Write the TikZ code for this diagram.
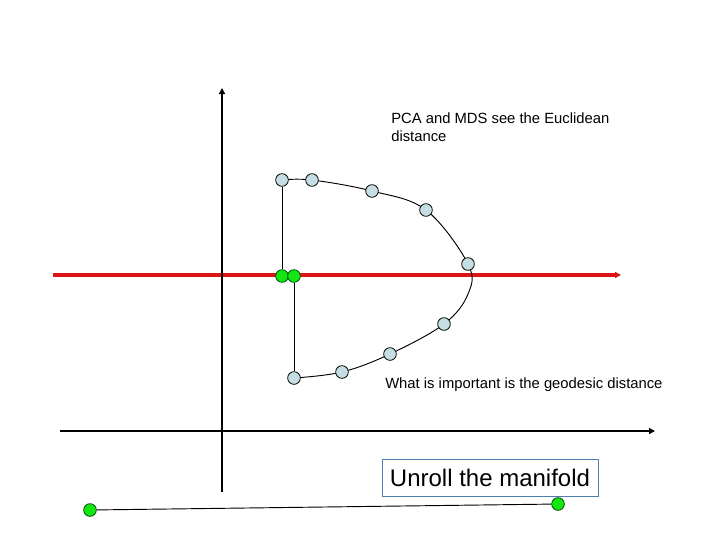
\documentclass[tikz,border=0pt]{standalone}
\usepackage{fontspec}
\setmainfont{Liberation Sans}
\usetikzlibrary{arrows.meta,backgrounds}
\definecolor{dotblue}{RGB}{197,222,228}
\definecolor{dotgreen}{RGB}{20,230,20}
\definecolor{axred}{RGB}{220,20,20}
\definecolor{boxblue}{RGB}{80,125,175}
\tikzset{
  bdot/.style={circle,draw=black,line width=0.6pt,fill=dotblue,minimum size=9.5pt,inner sep=0pt},
  gdot/.style={circle,draw=black!70!green,line width=0.6pt,fill=dotgreen,minimum size=9.5pt,inner sep=0pt},
  axis/.style={line width=1.5pt,-{Triangle[length=4.5pt,width=4.5pt]}},
  link/.style={line width=0.7pt},
  lbl/.style={font=\fontsize{11.1}{13}\selectfont,align=left,inner sep=0pt,anchor=north west}
}
\begin{document}
\begin{tikzpicture}[x=0.75pt,y=-0.75pt]
\useasboundingbox (0,0) rectangle (720,540);
% axes
\coordinate (ybot) at (222,492);
\coordinate (ytop) at (222,88);
\coordinate (xl) at (60,431);
\coordinate (xr) at (655,431);
\coordinate (rl) at (53,275);
\coordinate (rr) at (621,275);
\draw[axis] (ybot) -- (ytop);
\draw[axis] (xl) -- (xr);
% dots
\node[bdot] (b1) at (282,180) {};
\node[bdot] (b2) at (312,180) {};
\node[bdot] (b3) at (372,191) {};
\node[bdot] (b4) at (426,210) {};
\node[bdot] (b5) at (468,264) {};
\node[bdot] (b6) at (444,324) {};
\node[bdot] (b7) at (390,354) {};
\node[bdot] (b8) at (342,372) {};
\node[bdot] (b9) at (294,378) {};
\begin{pgfonlayer}{background}
\draw[axis,axred,line width=2.3pt] (rl) -- (rr);
\draw[link] plot[smooth,tension=0.6] coordinates {(b1) (b2) (b3) (b4) (b5) (468,294) (b6) (b7) (b8) (b9)};
\end{pgfonlayer}
\node[gdot] (g1) at (282,276) {};
\node[gdot] (g2) at (294,276) {};
\node[gdot] (g3) at (90,510) {};
\node[gdot] (g4) at (558,504) {};
\begin{pgfonlayer}{background}
\draw[link] (b1) -- (g1);
\draw[link] (g2) -- (b9);
\draw[link] (g3) -- (g4);
\end{pgfonlayer}
% texts
\node[lbl] (t1) at (391,113) {PCA and MDS see the Euclidean\\distance};
\node[lbl] (t2) at (385,377) {What is important is the geodesic distance};
\node[draw=boxblue,line width=0.6pt,font=\fontsize{18}{20}\selectfont,minimum width=216*0.75pt,minimum height=37*0.75pt,inner sep=0pt] (box) at (490,477.5) {Unroll the manifold};
\end{tikzpicture}
\end{document}
